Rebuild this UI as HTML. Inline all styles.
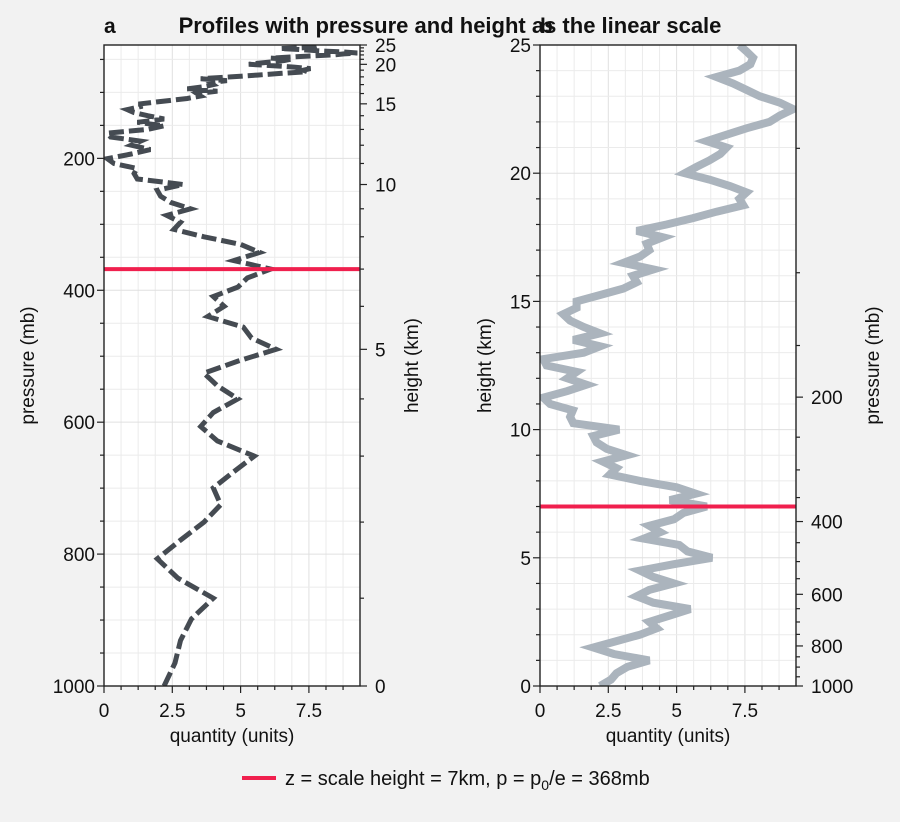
<!DOCTYPE html>
<html><head><meta charset="utf-8"><style>
body{margin:0;background:#f2f2f2;}
svg{display:block;font-family:"Liberation Sans",sans-serif;}
</style></head><body>
<svg id="c" width="900" height="822"></svg>
<script>
const heights=[0,0.25,0.5,0.75,1,1.25,1.5,1.75,2,2.25,2.5,2.75,3,3.25,3.5,3.75,4,4.25,4.5,4.75,5,5.25,5.5,5.75,6,6.25,6.5,6.75,7,7.25,7.5,7.75,8,8.25,8.5,8.75,9,9.25,9.5,9.75,10,10.25,10.5,10.75,11,11.25,11.5,11.75,12,12.25,12.5,12.75,13,13.25,13.5,13.75,14,14.25,14.5,14.75,15,15.25,15.5,15.75,16,16.25,16.5,16.75,17,17.25,17.5,17.75,18,18.25,18.5,18.75,19,19.25,19.5,19.75,20,20.25,20.5,20.75,21,21.25,21.5,21.75,22,22.25,22.5,22.75,23,23.25,23.5,23.75,24,24.25,24.5,24.75,25];
const quantity=[2.2,2.6,2.8,3.2,4.0,2.7,1.95,2.8,3.66,4.27,4.0,4.75,5.5,4.15,3.54,4.0,4.9,4.15,3.66,4.9,6.3,5.4,5.1,3.8,4.4,4.0,4.9,5.25,6.1,4.75,5.7,5.0,3.66,2.56,2.8,2.3,3.17,2.44,2.07,1.95,2.9,1.22,1.1,1.2,0.37,0.12,1.0,1.7,1.0,1.34,0.24,0.12,1.6,2.2,1.22,2.2,1.6,1.1,0.85,1.34,1.34,2.2,3.05,3.54,3.4,4.15,3.05,3.66,4.0,3.9,4.5,3.54,4.63,5.6,6.46,7.44,7.3,7.56,6.95,6.2,5.3,5.73,6.2,6.6,6.83,6.1,6.83,7.56,8.4,8.78,9.27,8.78,8.05,7.56,7.07,6.46,7.3,7.7,7.8,7.56,7.3];
const xTicks=[0,2.5,5,7.5];
const xTickLabels=['0','2.5','5','7.5'];
const pTicks=[200,400,600,800,1000];
const hTicks=[0,5,10,15,20,25];
const scaleHeight=7;
const NS='http://www.w3.org/2000/svg';
const svg=document.getElementById('c');
function el(t,a,p){const e=document.createElementNS(NS,t);for(const k in a)e.setAttribute(k,a[k]);(p||svg).appendChild(e);return e;}
const XMAX=9.37;
const FS=19;
const A={x0:104,x1:360,y0:45,y1:686};
const B={x0:540,x1:796,y0:45,y1:686};
function sxA(v){return A.x0+v*(A.x1-A.x0)/XMAX;}
function sxB(v){return B.x0+v*(B.x1-B.x0)/XMAX;}
const PTOP=1000*Math.exp(-25/scaleHeight);
function syP(p){return A.y1-(1000-p)*(A.y1-A.y0)/(1000-PTOP);}
function hToP(h){return 1000*Math.exp(-h/scaleHeight);}
function pToH(p){return -scaleHeight*Math.log(p/1000);}
function syH(h){return B.y1-h*(B.y1-B.y0)/25;}
function txt(x,y,s,o){const t=el('text',Object.assign({x:x,y:y,'font-size':FS,fill:'#111'},o||{}));t.textContent=s;return t;}

function panel(P,sx,name){
  const g=el('g',{});
  
  
  el('rect',{x:P.x0,y:P.y0,width:P.x1-P.x0,height:P.y1-P.y0,fill:'#fff'},g);
  for(let v=0;v<=XMAX;v+=0.625){const x=sx(v);el('line',{x1:x,x2:x,y1:P.y0,y2:P.y1,stroke:(v%2.5===0)?'#e0e0e0':'#ebebeb','stroke-width':1},g);}
  return g;
}
const gA=panel(A,sxA,'panel-a');
for(let p=50;p<=1000;p+=50){const y=syP(p);el('line',{x1:A.x0,x2:A.x1,y1:y,y2:y,stroke:p%200===0?'#e0e0e0':'#ebebeb'},gA);}
const gB=panel(B,sxB,'panel-b');
for(let h=0;h<=25;h++){const y=syH(h);el('line',{x1:B.x0,x2:B.x1,y1:y,y2:y,stroke:h%5===0?'#e0e0e0':'#ebebeb'},gB);}

let dA='',dB='';
for(let i=0;i<heights.length;i++){
  dA+=(i?'L':'M')+sxA(quantity[i]).toFixed(1)+','+syP(hToP(heights[i])).toFixed(1);
  dB+=(i?'L':'M')+sxB(quantity[i]).toFixed(1)+','+syH(heights[i]).toFixed(1);
}
const cpA=el('clipPath',{id:'ca'});el('rect',{x:A.x0,y:A.y0,width:A.x1-A.x0,height:A.y1-A.y0},cpA);
const cpB=el('clipPath',{id:'cb'});el('rect',{x:B.x0,y:B.y0,width:B.x1-B.x0,height:B.y1-B.y0},cpB);
const lA=el('path',{d:dA,fill:'none',stroke:'#454b52','stroke-width':5,'stroke-dasharray':'15,5','clip-path':'url(#ca)'});


const lB=el('path',{d:dB,fill:'none',stroke:'#abb4bd','stroke-width':8,'clip-path':'url(#cb)'});


const rA=el('line',{x1:A.x0,x2:A.x1,y1:syP(hToP(scaleHeight)),y2:syP(hToP(scaleHeight)),stroke:'#f0204e','stroke-width':4});


const rB=el('line',{x1:B.x0,x2:B.x1,y1:syH(scaleHeight),y2:syH(scaleHeight),stroke:'#f0204e','stroke-width':4});



[A,B].forEach(P=>el('rect',{x:P.x0,y:P.y0,width:P.x1-P.x0,height:P.y1-P.y0,fill:'none',stroke:'#222','stroke-width':1.4}));
const tk='#222';
[[A,sxA],[B,sxB]].forEach(([P,sx])=>{
  for(let v=0;v<=XMAX;v+=0.625){const x=sx(v);const maj=v%2.5===0;el('line',{x1:x,x2:x,y1:P.y1,y2:P.y1+(maj?7:4),stroke:tk,'stroke-width':1.2});}
  xTicks.forEach((v,i)=>{const t=txt(sx(v),P.y1+31,xTickLabels[i],{'text-anchor':'middle'});});
  const xl=txt((P.x0+P.x1)/2,P.y1+56,'quantity (units)',{'text-anchor':'middle'});
  
  
});
for(let p=50;p<=1000;p+=50){const y=syP(p);const maj=p%200===0;el('line',{x1:A.x0,x2:A.x0-(maj?7:4),y1:y,y2:y,stroke:tk,'stroke-width':1.2});}
pTicks.forEach(p=>{const t=txt(A.x0-9,syP(p)+7,String(p),{'text-anchor':'end'});});
const ylA=txt(0,0,'pressure (mb)',{'text-anchor':'middle',transform:`translate(34,${(A.y0+A.y1)/2}) rotate(-90)`});


for(let h=0;h<=25;h++){const y=syP(hToP(h));const maj=h%5===0;el('line',{x1:A.x1,x2:A.x1+(maj?7:4),y1:y,y2:y,stroke:tk,'stroke-width':1.2});}
hTicks.forEach(h=>{const t=txt(A.x1+15,syP(hToP(h))+7,String(h));});
const ylA2=txt(0,0,'height (km)',{'text-anchor':'middle',transform:`translate(418,${(A.y0+A.y1)/2}) rotate(-90)`});


for(let h=0;h<=25;h++){const y=syH(h);const maj=h%5===0;el('line',{x1:B.x0,x2:B.x0-(maj?7:4),y1:y,y2:y,stroke:tk,'stroke-width':1.2});}
hTicks.forEach(h=>{const t=txt(B.x0-9,syH(h)+7,String(h),{'text-anchor':'end'});});
const ylB=txt(0,0,'height (km)',{'text-anchor':'middle',transform:`translate(491,${(B.y0+B.y1)/2}) rotate(-90)`});


for(let p=50;p<=1000;p+=50){const y=syH(pToH(p));if(y<B.y0)continue;const maj=p%200===0;el('line',{x1:B.x1,x2:B.x1+(maj?7:4),y1:y,y2:y,stroke:tk,'stroke-width':1.2});}
pTicks.forEach(p=>{const t=txt(B.x1+15,syH(pToH(p))+7,String(p));});
const ylB2=txt(0,0,'pressure (mb)',{'text-anchor':'middle',transform:`translate(879,${(B.y0+B.y1)/2}) rotate(-90)`});


const la=txt(104,33,'a',{'font-weight':'bold','font-size':21});


const lb=txt(540,33,'b',{'font-weight':'bold','font-size':21});


const ti=txt(450,33,'Profiles with pressure and height as the linear scale',{'font-weight':'bold','font-size':22,'text-anchor':'middle'});


const lg=el('g',{});


el('line',{x1:242,x2:276,y1:778,y2:778,stroke:'#f0204e','stroke-width':4},lg);
const lt=el('text',{x:285,y:785,'font-size':20,fill:'#111'},lg);
lt.innerHTML='z = scale height = 7km, p = p<tspan font-size="14" dy="5">0</tspan><tspan dy="-5">/e = 368mb</tspan>';
</script>
</body></html>
